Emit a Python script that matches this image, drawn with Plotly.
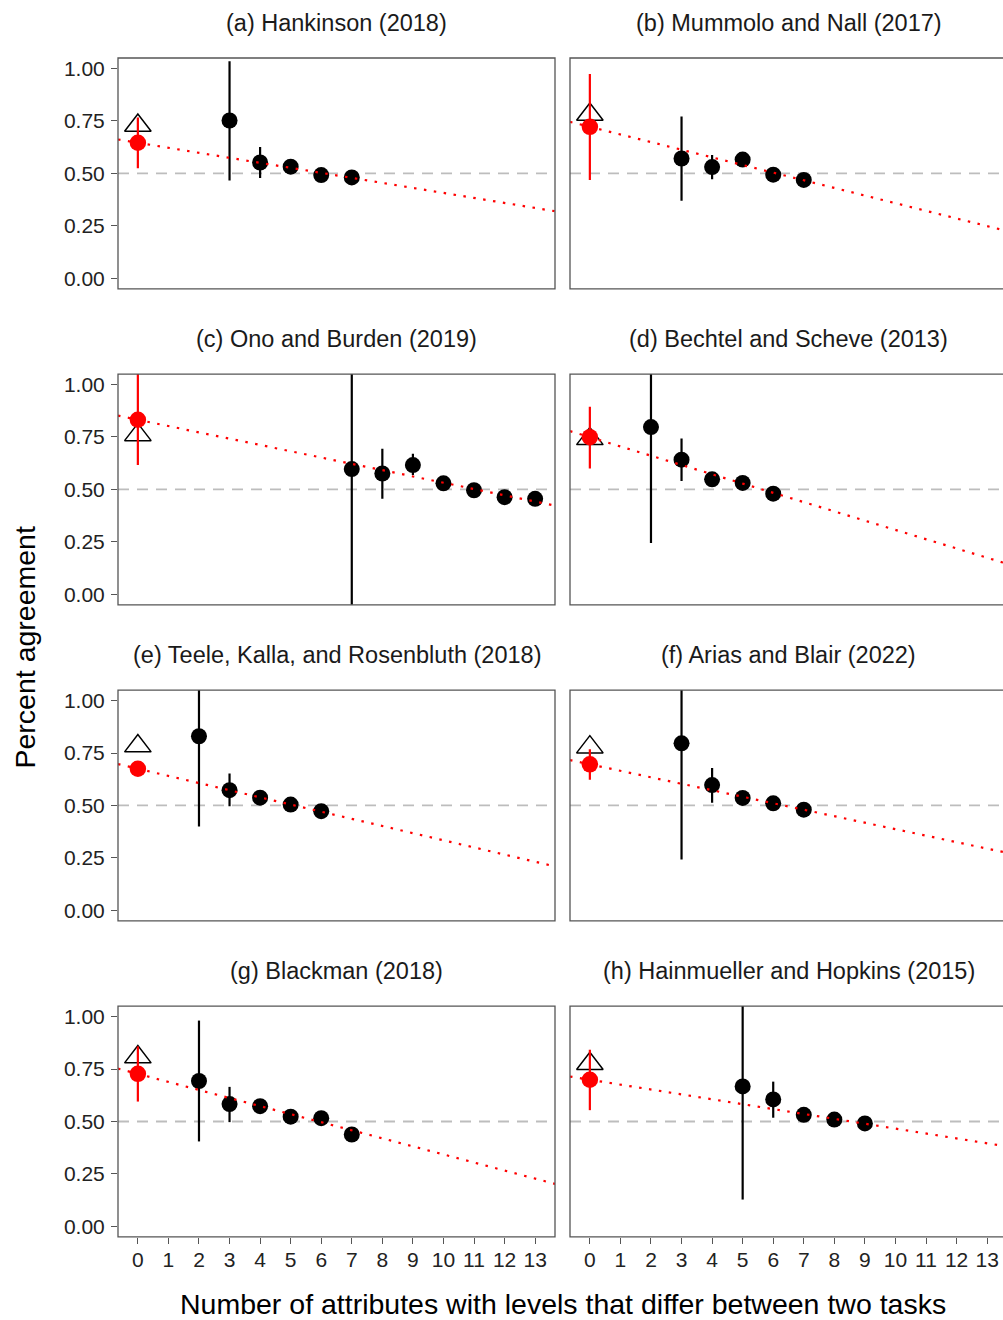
import plotly.graph_objects as go

# ---------------- data ----------------
titles = ["(a) Hankinson (2018)", "(b) Mummolo and Nall (2017)",
          "(c) Ono and Burden (2019)", "(d) Bechtel and Scheve (2013)",
          "(e) Teele, Kalla, and Rosenbluth (2018)", "(f) Arias and Blair (2022)",
          "(g) Blackman (2018)", "(h) Hainmueller and Hopkins (2015)"]

# black points: number of differing attributes, estimate, CI low, CI high
a_x = [3, 4, 5, 6, 7]
a_est = [0.752, 0.552, 0.532, 0.492, 0.481]
a_lo = [0.466, 0.478, 0.512, 0.472, 0.462]
a_hi = [1.035, 0.626, 0.552, 0.512, 0.500]

b_x = [3, 4, 5, 6, 7]
b_est = [0.571, 0.530, 0.566, 0.494, 0.469]
b_lo = [0.370, 0.472, 0.548, 0.476, 0.451]
b_hi = [0.771, 0.588, 0.584, 0.512, 0.487]

c_x = [7, 8, 9, 10, 11, 12, 13]
c_est = [0.597, 0.576, 0.616, 0.529, 0.496, 0.463, 0.455]
c_lo = [-0.10, 0.455, 0.569, 0.511, 0.478, 0.445, 0.437]
c_hi = [1.10, 0.694, 0.670, 0.547, 0.514, 0.481, 0.473]

d_x = [2, 3, 4, 5, 6]
d_est = [0.797, 0.642, 0.548, 0.531, 0.480]
d_lo = [0.245, 0.540, 0.530, 0.513, 0.462]
d_hi = [1.10, 0.743, 0.566, 0.549, 0.498]

e_x = [2, 3, 4, 5, 6]
e_est = [0.830, 0.573, 0.537, 0.504, 0.473]
e_lo = [0.400, 0.496, 0.520, 0.487, 0.456]
e_hi = [1.10, 0.652, 0.554, 0.521, 0.490]

f_x = [3, 4, 5, 6, 7]
f_est = [0.796, 0.597, 0.536, 0.510, 0.480]
f_lo = [0.242, 0.513, 0.518, 0.492, 0.462]
f_hi = [1.10, 0.678, 0.554, 0.528, 0.498]

g_x = [2, 3, 4, 5, 6, 7]
g_est = [0.693, 0.583, 0.573, 0.523, 0.516, 0.438]
g_lo = [0.405, 0.497, 0.555, 0.505, 0.498, 0.420]
g_hi = [0.981, 0.665, 0.591, 0.541, 0.534, 0.456]

h_x = [5, 6, 7, 8, 9]
h_est = [0.667, 0.605, 0.532, 0.509, 0.491]
h_lo = [0.128, 0.518, 0.514, 0.491, 0.473]
h_hi = [1.10, 0.690, 0.550, 0.527, 0.509]

# red: extrapolated agreement at 0 differing attributes (intercept) with CI
red_est = [0.646, 0.722, 0.832, 0.749, 0.675, 0.696, 0.727, 0.699]
red_lo = [0.525, 0.469, 0.616, 0.600, 0.662, 0.623, 0.595, 0.554]
red_hi = [0.767, 0.974, 1.10, 0.894, 0.688, 0.768, 0.858, 0.842]
# fitted slope of the dotted regression line
slopes = [-0.0239, -0.0364, -0.0300, -0.0442, -0.0341, -0.0309, -0.0384, -0.0233]
# open triangles: observed agreement for identical tasks
tri_y = [0.728, 0.781, 0.760, 0.741, 0.783, 0.778, 0.807, 0.775]

chance = 0.5
x_ticks = list(range(0, 14))
y_ticks = [0.0, 0.25, 0.5, 0.75, 1.0]
y_ticklabels = ["0.00", "0.25", "0.50", "0.75", "1.00"]

black = [(a_x, a_est, a_lo, a_hi), (b_x, b_est, b_lo, b_hi), (c_x, c_est, c_lo, c_hi),
         (d_x, d_est, d_lo, d_hi), (e_x, e_est, e_lo, e_hi), (f_x, f_est, f_lo, f_hi),
         (g_x, g_est, g_lo, g_hi), (h_x, h_est, h_lo, h_hi)]

# ---------------- layout geometry (pixels) ----------------
W, H = 1003, 1320
ML, MT, MB = 118, 57.5, 82.5
PW = W - ML
PH = H - MT - MB
col_left = [(118, 555), (570, 1003)]
full_right = 1007.3
row_top = [57.5 + 316.3 * i for i in range(4)]
panel_h = 231

xlo, xhi = -0.65, 13.65
units_per_px = (xhi - xlo) / (555 - 118)

FONT = "Liberation Sans, Arial, Helvetica, sans-serif"
BORDER = "#555555"

fig = go.Figure()
layout = dict(width=W, height=H, margin=dict(l=ML, r=0, t=MT, b=MB, pad=0),
              plot_bgcolor="white", paper_bgcolor="white", showlegend=False,
              font=dict(family=FONT, color="#222222"))
shapes = []
annotations = []

for i in range(8):
    r, c = divmod(i, 2)
    n = i + 1
    xa = "xaxis" if n == 1 else f"xaxis{n}"
    ya = "yaxis" if n == 1 else f"yaxis{n}"
    xr = "x" if n == 1 else f"x{n}"
    yr = "y" if n == 1 else f"y{n}"
    x0p, x1p = col_left[c]
    dom_x = [(x0p - ML) / PW, (x1p - ML) / PW]
    top = row_top[r]
    bot = top + panel_h
    dom_y = [(H - MB - bot) / PH, (H - MB - top) / PH]
    x_max = xlo + (x1p - x0p) * units_per_px
    bottom_row = r == 3
    layout[xa] = dict(domain=dom_x, anchor=yr, range=[xlo, x_max], showgrid=False,
                      zeroline=False, showline=False,
                      tickmode="array", tickvals=x_ticks if bottom_row else [],
                      ticktext=[str(v) for v in x_ticks] if bottom_row else [],
                      ticks="outside" if bottom_row else "", ticklen=6, tickwidth=1.3,
                      tickcolor=BORDER, showticklabels=bottom_row,
                      ticklabelstandoff=-2,
                      tickfont=dict(size=21, color="#222222", family=FONT))
    layout[ya] = dict(domain=dom_y, anchor=xr, range=[-0.05, 1.05], showgrid=False,
                      zeroline=False, showline=False,
                      tickmode="array", tickvals=y_ticks if c == 0 else [],
                      ticktext=y_ticklabels if c == 0 else [],
                      ticks="outside" if c == 0 else "", ticklen=6, tickwidth=1.3,
                      tickcolor=BORDER, showticklabels=(c == 0),
                      ticklabelstandoff=2,
                      tickfont=dict(size=21, color="#222222", family=FONT))

    # chance line
    shapes.append(dict(type="line", xref=f"{xr} domain", yref=yr, x0=0, x1=1,
                       y0=chance, y1=chance, layer="below",
                       line=dict(color="#bdbdbd", width=1.8, dash="11px,8px")))
    # panel border
    shapes.append(dict(type="rect", xref=f"{xr} domain", yref=f"{yr} domain",
                       x0=0, x1=1 if c == 0 else 1.03, y0=0, y1=1, layer="above",
                       line=dict(color=BORDER, width=1.3)))
    # title
    cx = ((x0p + (x1p if c == 0 else full_right)) / 2 - ML) / PW
    annotations.append(dict(text=titles[i], xref="paper", yref="paper", x=cx,
                            y=(H - MB - (top - 35)) / PH, xanchor="center",
                            yanchor="middle", showarrow=False,
                            font=dict(size=23.5, color="#1a1a1a", family=FONT)))

    bx, best, blo, bhi = black[i]
    # black point ranges
    fig.add_trace(go.Scatter(
        x=bx, y=best, mode="markers", xaxis=xr, yaxis=yr, cliponaxis=False,
        marker=dict(color="black", size=16, line=dict(width=0)),
        error_y=dict(type="data", symmetric=False,
                     array=[h - e for h, e in zip(bhi, best)],
                     arrayminus=[e - l for e, l in zip(best, blo)],
                     color="black", thickness=2.2, width=0)))
    # triangle
    fig.add_trace(go.Scatter(
        x=[0], y=[tri_y[i]], mode="markers", xaxis=xr, yaxis=yr, cliponaxis=False,
        marker=dict(symbol="triangle-up-open", size=23, color="black",
                    line=dict(width=1.5, color="black"))))
    # red intercept
    fig.add_trace(go.Scatter(
        x=[0], y=[red_est[i]], mode="markers", xaxis=xr, yaxis=yr, cliponaxis=False,
        marker=dict(color="red", size=16.5, line=dict(width=0)),
        error_y=dict(type="data", symmetric=False,
                     array=[red_hi[i] - red_est[i]], arrayminus=[red_est[i] - red_lo[i]],
                     color="red", thickness=2.2, width=0)))
    # regression line
    lx = [xlo, x_max]
    fig.add_trace(go.Scatter(
        x=lx, y=[red_est[i] + slopes[i] * v for v in lx], mode="lines",
        xaxis=xr, yaxis=yr,
        line=dict(color="red", width=2.2, dash="2.5px,7.5px")))

# axis titles
annotations.append(dict(text="Percent agreement", xref="paper", yref="paper",
                        x=(24 - ML) / PW, y=(H - MB - 647.5) / PH, textangle=-90,
                        xanchor="center", yanchor="middle", showarrow=False,
                        font=dict(size=28.5, color="#000000", family=FONT)))
annotations.append(dict(text="Number of attributes with levels that differ between two tasks",
                        xref="paper", yref="paper", x=((118 + full_right) / 2 - ML) / PW,
                        y=(H - MB - 1305) / PH, xanchor="center", yanchor="middle",
                        showarrow=False, font=dict(size=28.5, color="#000000", family=FONT)))

layout["shapes"] = shapes
layout["annotations"] = annotations
fig.update_layout(**layout)
fig.write_html("out.html")
